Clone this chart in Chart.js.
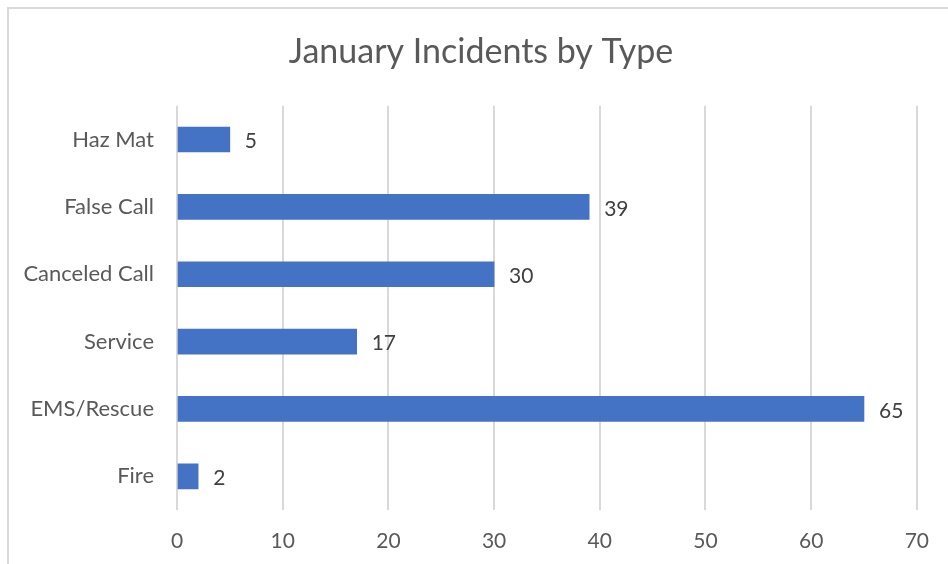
<!DOCTYPE html>
<html>
<head>
<meta charset="utf-8">
<script src="https://cdn.jsdelivr.net/npm/chart.js@4/dist/chart.umd.min.js"></script>
<style>
  html, body { margin: 0; padding: 0; background: #fff; overflow: hidden; }
  #wrap { position: relative; width: 948px; height: 564px; }
  #frame {
    position: absolute; left: 7px; top: 7px; width: 960px; height: 580px;
    border-top: 2px solid #d9d9d9; border-left: 2px solid #d9d9d9;
  }
  canvas { position: absolute; left: 0; top: 0; }
</style>
</head>
<body>
<div id="wrap">
  <div id="frame"></div>
  <canvas id="chart" width="948" height="564"></canvas>
</div>
<script>
  // Categories listed top to bottom, as in the picture.
  const categories = ["Haz Mat", "False Call", "Canceled Call", "Service", "EMS/Rescue", "Fire"];
  const incidents = [5, 39, 30, 17, 65, 2];
  const xTicks = [0, 10, 20, 30, 40, 50, 60, 70];

  const FONT = "Lato, 'Open Sans', sans-serif";
  const COLORS = {
    bar: "#4472c4",
    grid: "#d9d9d9",
    tick: "#595959",
    label: "#404040",
  };

  // Value labels just past the end of each bar.
  const valueLabels = {
    id: "valueLabels",
    afterDatasetsDraw(chart) {
      const ctx = chart.ctx;
      const meta = chart.getDatasetMeta(0);
      ctx.save();
      ctx.font = "21px " + FONT;
      ctx.fillStyle = COLORS.label;
      ctx.textAlign = "left";
      ctx.textBaseline = "middle";
      meta.data.forEach((bar, i) => {
        ctx.fillText(String(incidents[i]), bar.x + 15, bar.y + 2);
      });
      ctx.restore();
    },
  };

  new Chart(document.getElementById("chart"), {
    type: "bar",
    data: {
      labels: categories,
      datasets: [{
        data: incidents,
        backgroundColor: COLORS.bar,
        borderWidth: 0,
        barThickness: 25,
      }],
    },
    options: {
      indexAxis: "y",
      responsive: false,
      animation: false,
      // left padding + empty right axis keep the title centred on the frame
      layout: { padding: { left: 14, right: 0, top: 0, bottom: 0 } },
      scales: {
        x: {
          min: 0,
          max: 70,
          afterBuildTicks: (scale) => { scale.ticks = xTicks.map((v) => ({ value: v })); },
          afterFit: (scale) => { scale.height = 54; },
          grid: { color: COLORS.grid, lineWidth: 2, drawTicks: false },
          border: { display: false },
          ticks: { color: COLORS.tick, font: { family: FONT, size: 21 }, padding: 19 },
        },
        y: {
          afterFit: (scale) => { scale.width = 163; },
          grid: { display: false, drawTicks: false },
          border: { display: false },
          ticks: { color: COLORS.tick, font: { family: FONT, size: 22 }, padding: 23 },
        },
        yRight: {
          position: "right",
          afterFit: (scale) => { scale.width = 31; },
          grid: { display: false, drawTicks: false },
          border: { display: false },
          ticks: { display: false },
        },
      },
      plugins: {
        legend: { display: false },
        tooltip: { enabled: false },
        title: {
          display: true,
          text: "January Incidents by Type",
          color: COLORS.tick,
          font: { family: FONT, size: 34, weight: "normal" },
          padding: { top: 32, bottom: 33 },
        },
      },
    },
    plugins: [valueLabels],
  });
</script>
</body>
</html>
